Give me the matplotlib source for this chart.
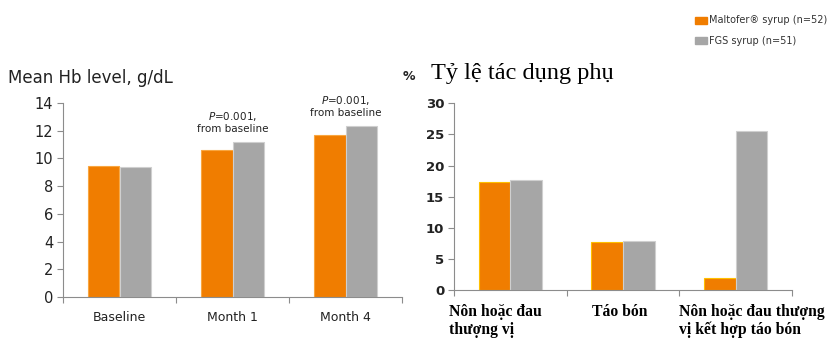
import matplotlib
matplotlib.use("Agg")
import matplotlib.pyplot as plt
import numpy as np

hb_categories = ["Baseline", "Month 1", "Month 4"]
hb_maltofer = [9.45, 10.6, 11.7]
hb_fgs = [9.4, 11.2, 12.35]
hb_yticks = [0, 2, 4, 6, 8, 10, 12, 14]

ae_categories = ["Nôn hoặc đau\nthượng vị", "Táo bón", "Nôn hoặc đau thượng\nvị kết hợp táo bón"]
ae_maltofer = [17.4, 7.7, 2.0]
ae_fgs = [17.7, 7.9, 25.5]
ae_yticks = [0, 5, 10, 15, 20, 25, 30]

series_labels = ["Maltofer® syrup (n=52)", "FGS syrup (n=51)"]
orange = "#F07D00"
gray = "#A6A6A6"

W, H = 832, 341
fig = plt.figure(figsize=(W / 100, H / 100), dpi=100)

def fx(px):
    return px / W

def fy(py):
    return 1 - py / H

spine_c = "#8C8C8C"
w = 0.28

# Left chart
ax1 = fig.add_axes([fx(63), fy(297), fx(402 - 63), fy(103) - fy(297)])
x = np.arange(len(hb_categories)) + 0.5
ax1.bar(x - w / 2, hb_maltofer, width=w, color=orange, edgecolor="#F9A640", linewidth=0.8)
ax1.bar(x + w / 2, hb_fgs, width=w, color=gray, edgecolor="#CFCFCF", linewidth=0.8)
ax1.set_xlim(0, 3)
ax1.set_ylim(0, 14)
ax1.set_yticks(hb_yticks)
ax1.set_yticklabels([str(t) for t in hb_yticks], fontsize=10.5, color="#222222")
ax1.set_xticks([0, 1, 2, 3])
ax1.set_xticklabels([])
ax1.set_xticks(x, minor=True)
ax1.set_xticklabels(hb_categories, minor=True, fontsize=9, color="#222222")
ax1.tick_params(axis="x", which="minor", length=0, pad=10)
ax1.tick_params(axis="x", which="major", length=4, color=spine_c)
ax1.tick_params(axis="y", length=4, color=spine_c, pad=3)
for s in ["top", "right"]:
    ax1.spines[s].set_visible(False)
for s in ["left", "bottom"]:
    ax1.spines[s].set_color(spine_c)
    ax1.spines[s].set_linewidth(0.8)
for i in [1, 2]:
    ax1.text(x[i], max(hb_maltofer[i], hb_fgs[i]) + 0.55, "$\\it{P}$=0.001,\nfrom baseline",
             ha="center", va="bottom", fontsize=7.5, linespacing=1.15, color="#222222")
fig.text(fx(8), fy(78), "Mean Hb level, g/dL", fontsize=12, ha="left", va="center", color="#222222")

# Right chart
ax2 = fig.add_axes([fx(454), fy(290), fx(792 - 454), fy(103.3) - fy(290)])
x2 = np.arange(len(ae_categories)) + 0.5
ax2.bar(x2 - w / 2, ae_maltofer, width=w, color=orange, edgecolor="#FFC000", linewidth=0.8)
ax2.bar(x2 + w / 2, ae_fgs, width=w, color=gray, edgecolor="#CFCFCF", linewidth=0.8)
ax2.set_xlim(0, 3)
ax2.set_ylim(0, 30)
ax2.set_yticks(ae_yticks)
ax2.set_yticklabels([str(t) for t in ae_yticks], fontsize=9.5, fontweight="bold", color="#222222")
ax2.set_xticks([0, 1, 2, 3])
ax2.set_xticklabels([])
ax2.tick_params(axis="x", length=4, color=spine_c)
ax2.tick_params(axis="y", length=4, color=spine_c, pad=3)
for s in ["top", "right"]:
    ax2.spines[s].set_visible(False)
for s in ["left", "bottom"]:
    ax2.spines[s].set_color(spine_c)
    ax2.spines[s].set_linewidth(0.8)
label_x = [449, 592, 679]
for lx, lab in zip(label_x, ae_categories):
    fig.text(fx(lx), fy(304), lab, fontsize=11.3, fontweight="bold", family="Liberation Serif",
             ha="left", va="top", linespacing=1.15)
fig.text(fx(403), fy(76), "%", fontsize=9, fontweight="bold", ha="left", va="center", color="#222222")
fig.text(fx(431), fy(73), "Tỷ lệ tác dụng phụ", fontsize=17.5, family="Liberation Serif",
         ha="left", va="center")

# Legend
for yy, col, lab in [(20, orange, series_labels[0]), (40.5, gray, series_labels[1])]:
    fig.patches.append(plt.Rectangle((fx(695), fy(yy + 3.5)), fx(12), fy(0) - fy(7),
                                     transform=fig.transFigure, color=col, figure=fig))
    fig.text(fx(709), fy(yy), lab, fontsize=7.0, ha="left", va="center", color="#333333")

fig.savefig("out.png", dpi=100)
